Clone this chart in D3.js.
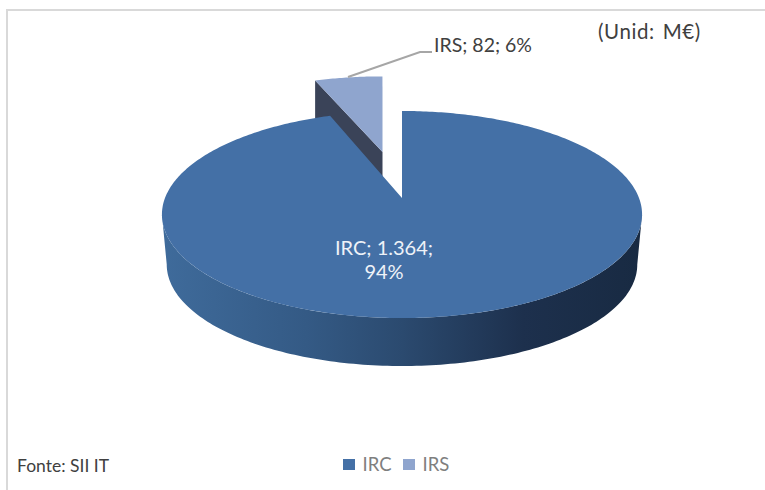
<!DOCTYPE html>
<html><head><meta charset="utf-8">
<script src="https://cdn.jsdelivr.net/npm/d3@7"></script>
<style>html,body{margin:0;padding:0;background:#fff}svg{display:block}text{font-family:Lato,"Open Sans",sans-serif}</style>
</head><body><div id="c"></div>
<script>
const categories = ["IRC", "IRS"];
const values = [1364, 82];
const valueLabels = ["1.364", "82"];
const percentLabels = ["94%", "6%"];
const colors = ["#4470a6", "#8fa5ce"];
const W = 765, H = 490;

const svg = d3.select("#c").append("svg").attr("width", W).attr("height", H);
const defs = svg.append("defs");
const grad = defs.append("linearGradient").attr("id", "wall").attr("gradientUnits", "userSpaceOnUse")
  .attr("x1", 162).attr("x2", 643).attr("y1", 0).attr("y2", 0);
[[0, "#3f6b9b"], [0.3, "#345a85"], [0.5, "#2b4a6f"], [0.75, "#1d304d"], [1, "#182a42"]]
  .forEach(([o, c]) => grad.append("stop").attr("offset", o).attr("stop-color", c));

// chart frame
svg.append("path").attr("d", `M${W},10H7V${H}`).attr("fill", "none").attr("stroke", "#d9d9d9").attr("stroke-width", 2);

// perspective projection of the unit disc
const cx = 402, apexY = 198, R = 237, B = 100.9, k = 0.1594;
function topP([u, v]) { const w = 1 + k * v; return [cx + R * u / w, apexY - B * v / w]; }
function botP([u, v]) { const w = 1 + k * v; return [cx + 0.98 * R * u / w, apexY + 50.4 - 0.98 * B * v / w]; }
// the exploded slice: a slight lean, and a wall that drops straight down
function sliceTop(p) { const [x, y] = topP(p); return [x - 0.034 * (152 - y), y]; }
function sliceBot(p) { const [x, y] = sliceTop(p); return [x, y + 50]; }
const disc = (a, off = [0, 0]) => [off[0] + Math.sin(a), off[1] + Math.cos(a)];
const line = d3.line();

const pie = d3.pie().sort(null).startAngle(0).endAngle(2 * Math.PI);
const arcs = pie(values);
const main = arcs[0], small = arcs[1];
const samples = (a0, a1, n = 160) => d3.range(n + 1).map(i => a0 + (a1 - a0) * i / n);

// exploded slice: side wall, then top
const mid = (small.startAngle + small.endAngle) / 2;
const off = [0.5 * Math.sin(mid), 0.5 * Math.cos(mid)];
const sA = samples(small.startAngle, small.endAngle, 30);
svg.append("path").attr("fill", "#3a4358").attr("d", line([
  sliceTop(off), sliceTop(disc(small.startAngle, off)), sliceBot(disc(small.startAngle, off)), sliceBot(off)
]) + "Z");
svg.append("path").attr("fill", colors[1]).attr("d",
  line([sliceTop(off), ...sA.map(a => sliceTop(disc(a, off)))]) + "Z");

// main slice: front wall, then top
const a0 = Math.PI / 2 + Math.asin(k), a1 = 3 * Math.PI / 2 - Math.asin(k);
const front = samples(a0, a1);
svg.append("path").attr("fill", "url(#wall)").attr("d", line([
  ...front.map(a => topP(disc(a))), ...front.slice().reverse().map(a => botP(disc(a)))
]) + "Z");
const mA = samples(main.startAngle, main.endAngle, 400);
svg.append("path").attr("fill", colors[0]).attr("d",
  line([topP([0, 0]), ...mA.map(a => topP(disc(a)))]) + "Z");

// leader line
svg.append("path").attr("d", "M348,77L420,52H432").attr("fill", "none").attr("stroke", "#a6a6a6").attr("stroke-width", 2);

const T = (x, y, s, size, fill, anchor = "start") => svg.append("text").attr("x", x).attr("y", y)
  .attr("font-size", size).attr("fill", fill).attr("text-anchor", anchor).text(s);
T(434, 52, `${categories[1]}; ${valueLabels[1]}; ${percentLabels[1]}`, 19.5, "#404040");
T(384, 255, `${categories[0]}; ${valueLabels[0]};`, 20, "#eef2f8", "middle");
T(384, 279, percentLabels[0], 20, "#eef2f8", "middle");
T(598, 39, "(Unid: M€)", 20.5, "#404040").attr("word-spacing", 2).attr("letter-spacing", 0.6);
T(17, 472, "Fonte: SII IT", 17.5, "#404040");

// legend
const lg = d3.scalePoint().domain(categories).range([343, 403]);
categories.forEach((c, i) => {
  svg.append("rect").attr("x", lg(c)).attr("y", 459).attr("width", 12).attr("height", 11).attr("fill", colors[i]);
  T(lg(c) + 19.5, 471, c, 18.5, "#7f7f7f");
});
</script></body></html>
